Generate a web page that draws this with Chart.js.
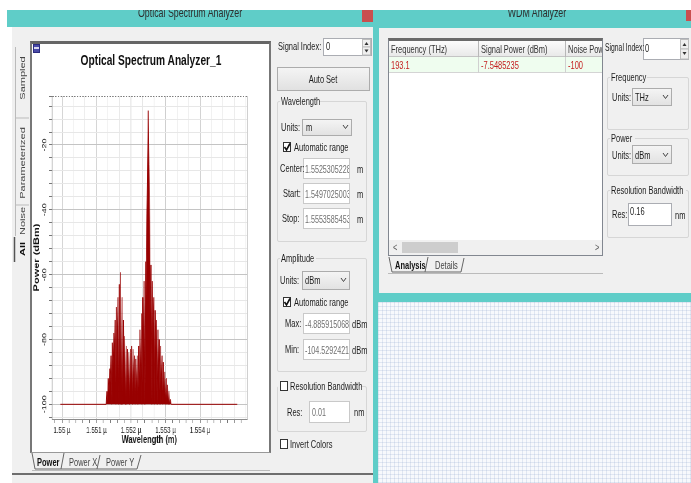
<!DOCTYPE html>
<html>
<head>
<meta charset="utf-8">
<script src="https://cdn.jsdelivr.net/npm/chart.js@4.4.0/dist/chart.umd.min.js"></script>
<style>
  html, body { margin: 0; padding: 0; background: #fff; width: 691px; height: 483px; overflow: hidden; }
  body { position: relative; font-family: "Liberation Sans", Arial, sans-serif; }
  .b { position: absolute; box-sizing: border-box; }
  .t { position: absolute; z-index: 3; font-size: 11px; line-height: 14px; color: #1c1c1c; white-space: nowrap;
       transform: scaleX(.68); transform-origin: 0 0; }
  .c { transform: scaleX(.68) translateX(-50%); }
  .v { transform: scaleX(.68) rotate(-90deg) translate(-50%, -50%); color: #444; }
  .teal { background: #5fcdc8; }
  .win { background: #f0f0f0; }
  .grp { border: 1px solid #d6d6d6; border-radius: 2px; }
  .gap { background: #f0f0f0; height: 3px; z-index: 1; }
  .dd { border: 1px solid #acacac; background: linear-gradient(#f4f4f4, #e2e2e2); }
  .in { border: 1px solid #c9c9c9; background: #fff; overflow: hidden; }
  .in .t { color: #707070; font-size: 10.5px; }
  .ck { border: 1px solid #333; background: #fff; width: 8px; height: 10px; }
  #plot { position: absolute; left: 32px; top: 44px; width: 347px; height: 408px; z-index: 2;
          transform: scaleX(.68); transform-origin: 0 0; }
  #ov { position: absolute; left: 0; top: 0; z-index: 2; }
</style>
</head>
<body>

<!-- window frames -->
<div class="b teal" style="left:7px;top:10px;width:367px;height:17px;"></div>
<div class="b" style="left:362px;top:10px;width:11px;height:12px;background:#c94f4f;"></div>
<div class="b teal" style="left:373px;top:10px;width:318px;height:473px;"></div>
<div class="b" style="left:686px;top:10px;width:5px;height:11px;background:#c94f4f;"></div>
<div class="b win" style="left:12px;top:27px;width:361px;height:456px;"></div>
<div class="b" style="left:12px;top:473px;width:361px;height:2px;background:#6e6e6e;"></div>
<div class="b win" style="left:379px;top:28px;width:312px;height:265px;"></div>
<div class="b" style="left:378px;top:302px;width:313px;height:181px;background-color:#f7f9fc;
     background-image:linear-gradient(to right, rgba(165,182,215,.28) 1px, transparent 1px),
                      linear-gradient(to bottom, rgba(165,182,215,.28) 1px, transparent 1px);
     background-size:4px 4px;"></div>

<div class="t c" style="left:190px;top:5px;font-size:13px;line-height:16px;color:#2e2e2e;">Optical Spectrum Analyzer</div>
<div class="t c" style="left:537px;top:5px;font-size:13px;line-height:16px;color:#2e2e2e;">WDM Analyzer</div>

<!-- left vertical tabs -->
<div class="t v" style="left:22px;top:78px;">Sampled</div>
<div class="t v" style="left:22px;top:163px;">Parameterized</div>
<div class="t v" style="left:22px;top:221px;">Noise</div>
<div class="t v" style="left:22px;top:249px;font-weight:bold;color:#111;">All</div>

<!-- chart panel -->
<div class="b" style="left:30px;top:41px;width:241px;height:412px;background:#fff;border-top:3px solid #666;border-left:2px solid #777;border-right:2px solid #777;border-bottom:1px solid #999;"></div>
<div class="b" style="left:33px;top:44px;width:7px;height:9px;background:#4a4aa8;border:1px solid #2c2c80;"></div>
<div class="b" style="left:34px;top:47px;width:5px;height:2px;background:#d8d8f0;"></div>
<canvas id="plot" width="347" height="408"></canvas>
<div class="t c" style="left:151px;top:51px;font-size:15px;line-height:18px;font-weight:bold;color:#111;">Optical Spectrum Analyzer_1</div>
<div class="t" style="left:37px;top:455px;font-weight:bold;color:#111;">Power</div>
<div class="t" style="left:69px;top:455px;color:#444;">Power X</div>
<div class="t" style="left:106px;top:455px;color:#444;">Power Y</div>

<!-- right controls of the spectrum analyzer -->
<div class="t" style="left:278px;top:39px;">Signal Index:</div>
<div class="b" style="left:323px;top:38px;width:49px;height:18px;border:1px solid #abadb3;background:#fff;"></div>
<div class="t" style="left:326px;top:39px;">0</div>
<div class="b" style="left:277px;top:67px;width:93px;height:24px;border:1px solid #acacac;background:linear-gradient(#f4f4f4,#e1e1e1);"></div>
<div class="t c" style="left:323px;top:72px;">Auto Set</div>

<div class="b grp" style="left:277px;top:101px;width:90px;height:141px;"></div>
<div class="b gap" style="left:280px;top:100px;width:39px;"></div>
<div class="t" style="left:281px;top:94px;">Wavelength</div>
<div class="t" style="left:281px;top:120px;">Units:</div>
<div class="b dd" style="left:302px;top:119px;width:50px;height:17px;"></div>
<div class="t" style="left:306px;top:120px;">m</div>
<div class="b ck" style="left:283px;top:142px;"></div>
<div class="t" style="left:294px;top:140px;">Automatic range</div>
<div class="t" style="left:280px;top:161px;">Center:</div>
<div class="b in" style="left:303px;top:158px;width:47px;height:21px;"><div class="t" style="left:1px;top:3px;">1.5525305228</div></div>
<div class="t" style="left:357px;top:162px;">m</div>
<div class="t" style="left:283px;top:186px;">Start:</div>
<div class="b in" style="left:303px;top:183px;width:47px;height:21px;"><div class="t" style="left:1px;top:3px;">1.5497025003</div></div>
<div class="t" style="left:357px;top:187px;">m</div>
<div class="t" style="left:282px;top:211px;">Stop:</div>
<div class="b in" style="left:303px;top:208px;width:47px;height:21px;"><div class="t" style="left:1px;top:3px;">1.5553585453</div></div>
<div class="t" style="left:357px;top:212px;">m</div>

<div class="b grp" style="left:277px;top:258px;width:90px;height:114px;"></div>
<div class="b gap" style="left:280px;top:257px;width:36px;"></div>
<div class="t" style="left:281px;top:251px;">Amplitude</div>
<div class="t" style="left:280px;top:273px;">Units:</div>
<div class="b dd" style="left:302px;top:271px;width:48px;height:19px;"></div>
<div class="t" style="left:305px;top:273px;">dBm</div>
<div class="b ck" style="left:283px;top:297px;"></div>
<div class="t" style="left:294px;top:295px;">Automatic range</div>
<div class="t" style="left:285px;top:316px;">Max:</div>
<div class="b in" style="left:303px;top:313px;width:47px;height:21px;"><div class="t" style="left:1px;top:3px;">-4.8859150681</div></div>
<div class="t" style="left:352px;top:317px;">dBm</div>
<div class="t" style="left:285px;top:342px;">Min:</div>
<div class="b in" style="left:303px;top:339px;width:47px;height:21px;"><div class="t" style="left:1px;top:3px;">-104.52924217</div></div>
<div class="t" style="left:352px;top:343px;">dBm</div>

<div class="b grp" style="left:277px;top:386px;width:90px;height:46px;"></div>
<div class="b gap" style="left:278px;top:385px;width:83px;"></div>
<div class="b ck" style="left:280px;top:381px;z-index:3;"></div>
<div class="t" style="left:290px;top:379px;">Resolution Bandwidth</div>
<div class="t" style="left:287px;top:405px;">Res:</div>
<div class="b in" style="left:309px;top:401px;width:41px;height:22px;"><div class="t" style="left:2px;top:3px;">0.01</div></div>
<div class="t" style="left:354px;top:405px;">nm</div>
<div class="b ck" style="left:280px;top:439px;"></div>
<div class="t" style="left:290px;top:437px;">Invert Colors</div>

<!-- WDM analyzer -->
<div class="b" style="left:388px;top:38px;width:215px;height:218px;background:#fff;border:1px solid #828790;border-top:3px solid #6a6a6a;overflow:hidden;">
  <div class="b" style="left:0;top:0;width:213px;height:16px;background:linear-gradient(#fcfcfc,#e9e9e9);border-bottom:1px solid #c4c4c4;"></div>
  <div class="b" style="left:89px;top:0;width:1px;height:16px;background:#b8b8b8;"></div>
  <div class="b" style="left:176px;top:0;width:1px;height:16px;background:#b8b8b8;"></div>
  <div class="t" style="left:2px;top:1px;color:#333;">Frequency (THz)</div>
  <div class="t" style="left:92px;top:1px;color:#333;">Signal Power (dBm)</div>
  <div class="t" style="left:179px;top:1px;color:#333;">Noise Power (dBm)</div>
  <div class="b" style="left:0;top:16px;width:213px;height:16px;background:#effdef;border-bottom:1px solid #d4d4d4;"></div>
  <div class="b" style="left:89px;top:16px;width:1px;height:16px;background:#d0d0d0;"></div>
  <div class="b" style="left:176px;top:16px;width:1px;height:16px;background:#d0d0d0;"></div>
  <div class="t" style="left:2px;top:17px;color:#c41e1e;">193.1</div>
  <div class="t" style="left:92px;top:17px;color:#c41e1e;">-7.5485235</div>
  <div class="t" style="left:179px;top:17px;color:#c41e1e;">-100</div>
  <div class="b" style="left:0;top:199px;width:213px;height:15px;background:#f0f0f0;"></div>
  <div class="b" style="left:13px;top:201px;width:56px;height:11px;background:#cdcdcd;"></div>
  <div class="t" style="left:4px;top:199px;color:#606060;">&lt;</div>
  <div class="t" style="left:206px;top:199px;color:#606060;">&gt;</div>
</div>
<div class="t" style="left:395px;top:258px;font-weight:bold;color:#111;">Analysis</div>
<div class="t" style="left:435px;top:258px;color:#444;">Details</div>

<div class="t" style="left:605px;top:41px;font-size:10px;">Signal Index:</div>
<div class="b" style="left:643px;top:38px;width:46px;height:22px;border:1px solid #abadb3;background:#fff;"></div>
<div class="t" style="left:645px;top:41px;">0</div>
<div class="b grp" style="left:607px;top:77px;width:82px;height:53px;"></div>
<div class="b gap" style="left:610px;top:76px;width:37px;"></div>
<div class="t" style="left:611px;top:70px;">Frequency</div>
<div class="t" style="left:612px;top:90px;">Units:</div>
<div class="b dd" style="left:632px;top:88px;width:40px;height:18px;"></div>
<div class="t" style="left:635px;top:90px;">THz</div>
<div class="b grp" style="left:607px;top:138px;width:82px;height:38px;"></div>
<div class="b gap" style="left:610px;top:137px;width:25px;"></div>
<div class="t" style="left:611px;top:131px;">Power</div>
<div class="t" style="left:612px;top:148px;">Units:</div>
<div class="b dd" style="left:632px;top:145px;width:40px;height:19px;"></div>
<div class="t" style="left:635px;top:148px;">dBm</div>
<div class="b grp" style="left:607px;top:190px;width:82px;height:48px;"></div>
<div class="b gap" style="left:610px;top:189px;width:76px;"></div>
<div class="t" style="left:611px;top:183px;">Resolution Bandwidth</div>
<div class="t" style="left:612px;top:207px;">Res:</div>
<div class="b" style="left:628px;top:203px;width:44px;height:23px;border:1px solid #abadb3;background:#fff;"></div>
<div class="t" style="left:630px;top:204px;">0.16</div>
<div class="t" style="left:675px;top:208px;">nm</div>

<!-- small glyphs: checks, chevrons, spinners, tab outlines -->
<svg id="ov" width="691" height="483" viewBox="0 0 691 483">
  <g fill="none" stroke="#444" stroke-width="1">
    <polyline points="343,125 345.5,128.5 348,125"/>
    <polyline points="341,278 343.5,281.5 346,278"/>
    <polyline points="663,95 665.5,98.5 668,95"/>
    <polyline points="663,153 665.5,156.5 668,153"/>
  </g>
  <g fill="none" stroke="#111" stroke-width="1.6">
    <polyline points="284.5,147 286.5,150 290,143.5"/>
    <polyline points="284.5,302 286.5,305 290,298.5"/>
  </g>
  <g fill="#efefef" stroke="#bdbdbd" stroke-width="1">
    <rect x="362.5" y="39.5" width="8" height="7.5"/>
    <rect x="362.5" y="47" width="8" height="8"/>
    <rect x="680.5" y="39.5" width="8" height="9.5"/>
    <rect x="680.5" y="49" width="8" height="10"/>
  </g>
  <g fill="#333">
    <polygon points="364.5,45 366.5,42 368.5,45"/>
    <polygon points="364.5,49.5 366.5,52.5 368.5,49.5"/>
    <polygon points="682.5,46 684.5,43 686.5,46"/>
    <polygon points="682.5,52 684.5,55 686.5,52"/>
  </g>
  <g fill="none" stroke="#666" stroke-width="1">
    <polyline points="32,453 35,469 61,469 64,453"/>
    <polyline points="61,469 97,469 100,455"/>
    <polyline points="97,469 137,469 141,455"/>
    <polyline points="389,257 392,272 425,272 428,257"/>
    <polyline points="425,272 461,272 464,258"/>
  </g>
  <g fill="none" stroke="#bbb" stroke-width="1">
    <line x1="32" y1="470.5" x2="270" y2="470.5"/>
    <line x1="388" y1="273.5" x2="603" y2="273.5"/>
    <line x1="15.5" y1="47" x2="15.5" y2="236"/>
    <line x1="15" y1="118" x2="29" y2="118"/>
    <line x1="15" y1="205" x2="29" y2="205"/>
  </g>
  <line x1="14.5" y1="237" x2="14.5" y2="262" stroke="#555" stroke-width="1.5"/>
</svg>

<div class="b" style="left:0;top:0;width:691px;height:10px;background:#fff;z-index:10;"></div>

<script>
// spectrum: wavelength in micrometres, power in dBm
const wavelengthUm = [
  1.54995,
  1.55126, 1.55128, 1.55130, 1.55132, 1.55134, 1.55136, 1.55138, 1.55140, 1.55142, 1.55144,
  1.55146, 1.55148, 1.55150, 1.55152, 1.55154, 1.55156, 1.55158, 1.55160, 1.55162, 1.55164,
  1.55166, 1.55168, 1.55170, 1.55172, 1.55174, 1.55176, 1.55178, 1.55180, 1.55182, 1.55184,
  1.55186, 1.55188, 1.55190, 1.55192, 1.55194, 1.55196, 1.55198, 1.55200, 1.55202, 1.55204,
  1.55206, 1.55208, 1.55210, 1.55212, 1.55214, 1.55216, 1.55218, 1.55220, 1.55222, 1.55224,
  1.55226, 1.55228, 1.55230, 1.55232, 1.55234, 1.55236, 1.55238, 1.55240, 1.55242, 1.55244,
  1.55246, 1.55248, 1.55250, 1.55252, 1.55254, 1.55256, 1.55258, 1.55260, 1.55262, 1.55264,
  1.55266, 1.55268, 1.55270, 1.55272, 1.55274, 1.55276, 1.55278, 1.55280, 1.55282, 1.55284,
  1.55286, 1.55288, 1.55290, 1.55292, 1.55294, 1.55296, 1.55298, 1.55300, 1.55302, 1.55304,
  1.55306, 1.55308, 1.55310, 1.55312, 1.55314, 1.55316,
  1.55508
];
const powerDbm = [
  -100,
  -100, -100, -96, -99, -92, -96, -89, -93, -85, -100,
  -81, -88, -78, -85, -74, -100, -70, -80, -67, -100,
  -63, -100, -59.3, -100, -67, -100, -74, -90, -79, -100,
  -82, -100, -83, -95, -84, -100, -83, -97, -82, -100,
  -83, -93, -85, -100, -86, -96, -85, -100, -82, -95,
  -77, -92, -72, -100, -67, -82, -62, -100, -56, -70,
  -41, -24, -9.4, -26, -43, -72, -57, -100, -62, -75,
  -67, -100, -71, -84, -74, -100, -77, -90, -80, -100,
  -82, -93, -85, -100, -87, -97, -90, -100, -92, -100,
  -94, -100, -96, -100, -98.5, -100,
  -100
];

// axis ranges (Start / Stop, Max / Min from the side panel)
const xMin = 1.5497025003, xMax = 1.5553585453;
const yMin = -104.5292421, yMax = -4.8859150681;

const xMajorTicks = [1.550, 1.551, 1.552, 1.553, 1.554];
const xTickLabels = ['1.55 \u00b5', '1.551 \u00b5', '1.552 \u00b5', '1.553 \u00b5', '1.554 \u00b5'];
const yMajorTicks = [-100, -80, -60, -40, -20];
const yTickLabels = ['-100', '-80', '-60', '-40', '-20'];

const majorIndex = (list, v, eps) => list.findIndex((m) => Math.abs(m - v) < eps);

const ctx = document.getElementById('plot').getContext('2d');
new Chart(ctx, {
  type: 'line',
  data: {
    datasets: [{
      label: 'Power',
      data: wavelengthUm.map((w, i) => ({ x: w, y: powerDbm[i] })),
      xAxisID: 'x',
      yAxisID: 'y',
      borderColor: '#980000',
      backgroundColor: '#980000',
      borderWidth: 1,
      pointRadius: 0,
      tension: 0,
      fill: { value: -100 },
    }],
  },
  options: {
    responsive: false,
    animation: false,
    devicePixelRatio: 1,
    layout: { padding: { top: 52, right: 31, bottom: 5, left: 0 } },
    plugins: { legend: { display: false }, tooltip: { enabled: false } },
    scales: {
      // labelled axis: tick marks every 0.2 nm, labels every 1 nm
      x: {
        type: 'linear',
        min: xMin,
        max: xMax,
        afterFit: (scale) => { scale.height = 28; },
        ticks: {
          stepSize: 0.0002,
          includeBounds: false,
          autoSkip: false,
          maxRotation: 0,
          padding: 2.5,
          color: '#222',
          font: { size: 9 },
          callback: (v) => {
            const k = majorIndex(xMajorTicks, v, 1e-7);
            return k < 0 ? '' : xTickLabels[k];
          },
        },
        grid: { drawOnChartArea: false, tickLength: 4, tickColor: '#777' },
        border: { color: '#8c8c8c' },
        title: {
          display: true,
          text: 'Wavelength (m)',
          color: '#111',
          font: { size: 11, weight: 'bold' },
          padding: { top: 0, bottom: 0 },
        },
      },
      // vertical grid: three lines per nm
      xGrid: {
        type: 'linear',
        position: 'bottom',
        min: xMin,
        max: xMax,
        afterFit: (scale) => { scale.height = 0; },
        afterBuildTicks: (scale) => { scale.ticks.push({ value: xMax }); },
        ticks: { display: false, stepSize: 0.001 / 3, includeBounds: false, autoSkip: false },
        grid: {
          drawTicks: false,
          color: (c) => {
            if (c.tick.value === xMax) return '#b4b4b4';
            return majorIndex(xMajorTicks, c.tick.value, 1e-7) < 0 ? '#e7e7e7' : '#c4c4c4';
          },
        },
        border: { display: false },
      },
      y: {
        type: 'linear',
        min: yMin,
        max: yMax,
        afterFit: (scale) => { scale.width = 29; },
        afterBuildTicks: (scale) => { scale.ticks.push({ value: yMax }); },
        ticks: {
          stepSize: 4,
          includeBounds: false,
          autoSkip: false,
          minRotation: 90,
          maxRotation: 90,
          crossAlign: 'center',
          padding: -3,
          color: '#222',
          font: { size: 9 },
          callback: (v) => {
            const k = majorIndex(yMajorTicks, v, 1e-6);
            return k < 0 ? '' : yTickLabels[k];
          },
        },
        grid: {
          tickLength: 4,
          tickColor: '#777',
          color: (c) => {
            if (c.tick.value === yMax) return '#7a7a7a';
            return majorIndex(yMajorTicks, c.tick.value, 1e-6) < 0 ? '#e7e7e7' : '#c4c4c4';
          },
        },
        border: {
          color: '#8c8c8c',
          dash: (c) => (c.tick && c.tick.value === yMax ? [2, 2] : []),
        },
        title: {
          display: true,
          text: 'Power (dBm)',
          color: '#111',
          font: { size: 11, weight: 'bold' },
          padding: { top: 0.8, bottom: 0 },
        },
      },
    },
  },
});
</script>
</body>
</html>
